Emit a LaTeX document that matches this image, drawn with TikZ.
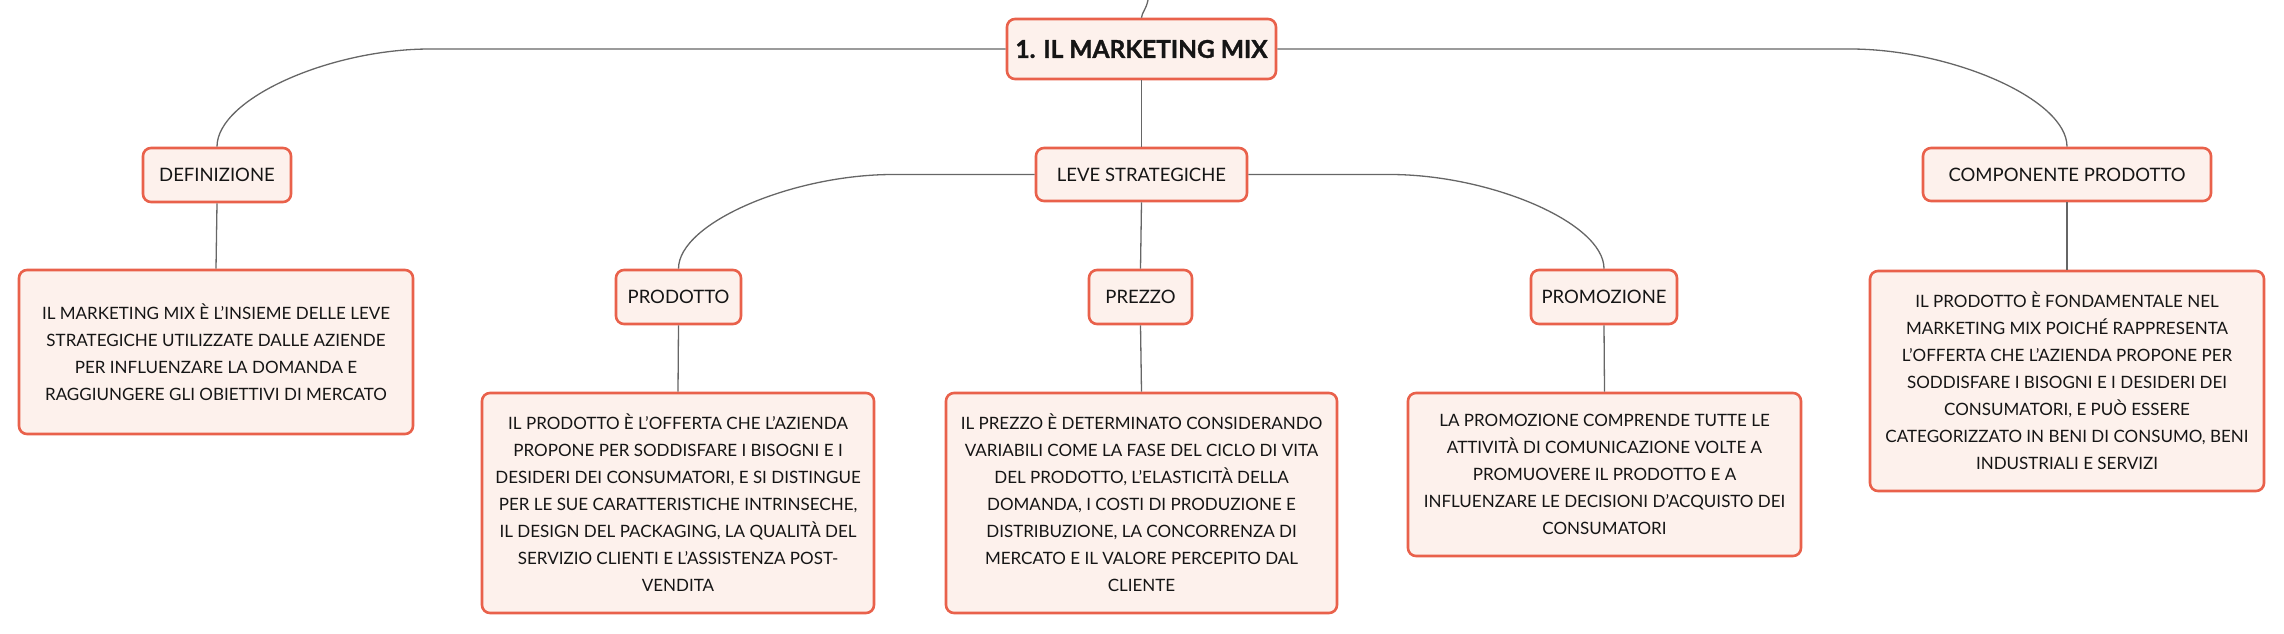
\documentclass[tikz,border=0pt]{standalone}
\usepackage{fontspec}
\setmainfont{Lato}
\newfontfamily\heavy{Lato}[BoldFeatures={FakeBold=1.2}]
\usetikzlibrary{calc}
\definecolor{boxfill}{HTML}{FDF1EC}
\definecolor{boxline}{HTML}{E9614B}
\definecolor{conn}{HTML}{666666}
\definecolor{ink}{HTML}{151515}
\tikzset{
  mbox/.style={draw=boxline, fill=boxfill, line width=2.6pt, rounded corners=8pt,
    inner sep=0pt, align=center, text=ink, font=\fontsize{17}{27}\selectfont},
  lbl/.style={mbox, font=\fontsize{18.5}{24}\selectfont},
  ttl/.style={mbox, font=\fontsize{24.5}{30}\selectfont\heavy\bfseries},
  link/.style={draw=conn, line width=1.3pt},
}
\begin{document}
\begin{tikzpicture}[x=1pt,y=1pt]
\useasboundingbox (0,0) rectangle (2284,-634);
% main nodes
\node[ttl, minimum width=269, minimum height=60] (title) at (1141.5,-49) {1. IL MARKETING MIX};
\node[lbl, minimum width=211, minimum height=53] (leve) at (1141.5,-174.5) {LEVE STRATEGICHE};
\node[lbl, minimum width=148, minimum height=54] (def) at (217,-175) {DEFINIZIONE};
\node[lbl, minimum width=288, minimum height=53] (comp) at (2067,-174.5) {COMPONENTE PRODOTTO};
\node[lbl, minimum width=125, minimum height=54] (prod) at (678.5,-297) {PRODOTTO};
\node[lbl, minimum width=103, minimum height=54] (prezzo) at (1140.5,-297) {PREZZO};
\node[lbl, minimum width=146, minimum height=54] (promo) at (1604,-297) {PROMOZIONE};
% text boxes
\node[mbox, minimum width=394, minimum height=164] (deftext) at (216,-352) {IL MARKETING MIX È L'INSIEME DELLE LEVE\\STRATEGICHE UTILIZZATE DALLE AZIENDE\\PER INFLUENZARE LA DOMANDA E\\RAGGIUNGERE GLI OBIETTIVI DI MERCATO};
\node[mbox, minimum width=392, minimum height=220] (prodtext) at (678,-503) {IL PRODOTTO È L'OFFERTA CHE L'AZIENDA\\PROPONE PER SODDISFARE I BISOGNI E I\\DESIDERI DEI CONSUMATORI, E SI DISTINGUE\\PER LE SUE CARATTERISTICHE INTRINSECHE,\\IL DESIGN DEL PACKAGING, LA QUALITÀ DEL\\SERVIZIO CLIENTI E L'ASSISTENZA POST-\\VENDITA};
\node[mbox, minimum width=391, minimum height=220] (prezzotext) at (1141.5,-503) {IL PREZZO È DETERMINATO CONSIDERANDO\\VARIABILI COME LA FASE DEL CICLO DI VITA\\DEL PRODOTTO, L'ELASTICITÀ DELLA\\DOMANDA, I COSTI DI PRODUZIONE E\\DISTRIBUZIONE, LA CONCORRENZA DI\\MERCATO E IL VALORE PERCEPITO DAL\\CLIENTE};
\node[mbox, minimum width=393, minimum height=163] (promotext) at (1604.5,-474.5) {LA PROMOZIONE COMPRENDE TUTTE LE\\ATTIVITÀ DI COMUNICAZIONE VOLTE A\\PROMUOVERE IL PRODOTTO E A\\INFLUENZARE LE DECISIONI D'ACQUISTO DEI\\CONSUMATORI};
\node[mbox, minimum width=394, minimum height=220] (comptext) at (2067,-381) {IL PRODOTTO È FONDAMENTALE NEL\\MARKETING MIX POICHÉ RAPPRESENTA\\L'OFFERTA CHE L'AZIENDA PROPONE PER\\SODDISFARE I BISOGNI E I DESIDERI DEI\\CONSUMATORI, E PUÒ ESSERE\\CATEGORIZZATO IN BENI DI CONSUMO, BENI\\INDUSTRIALI E SERVIZI};
% incoming line from above
\coordinate (above) at (1148,0);
\draw[link] (above) .. controls (1146,-10) and (1142,-12) .. (title.north);
% curved connectors
\draw[link] (title.west) -- (430,-49) .. controls (330,-49) and ($(def.north)+(0,48)$) .. (def.north);
\draw[link] (title.east) -- (1850,-49) .. controls (1950,-49) and ($(comp.north)+(0,48)$) .. (comp.north);
\draw[link] (leve.west) -- (893,-174.5) .. controls (793,-174.5) and ($(prod.north)+(0,46)$) .. (prod.north);
\draw[link] (leve.east) -- (1390,-174.5) .. controls (1490,-174.5) and ($(promo.north)+(0,46)$) .. (promo.north);
% straight connectors
\draw[link] (title.south) -- (leve.north);
\draw[link] (leve.south) -- (prezzo.north);
\draw[link] (def.south) -- (deftext.north);
\draw[link] (comp.south) -- (comptext.north);
\draw[link] (prod.south) -- (prodtext.north);
\draw[link] (prezzo.south) -- (prezzotext.north);
\draw[link] (promo.south) -- (promotext.north);
\end{tikzpicture}
\end{document}
